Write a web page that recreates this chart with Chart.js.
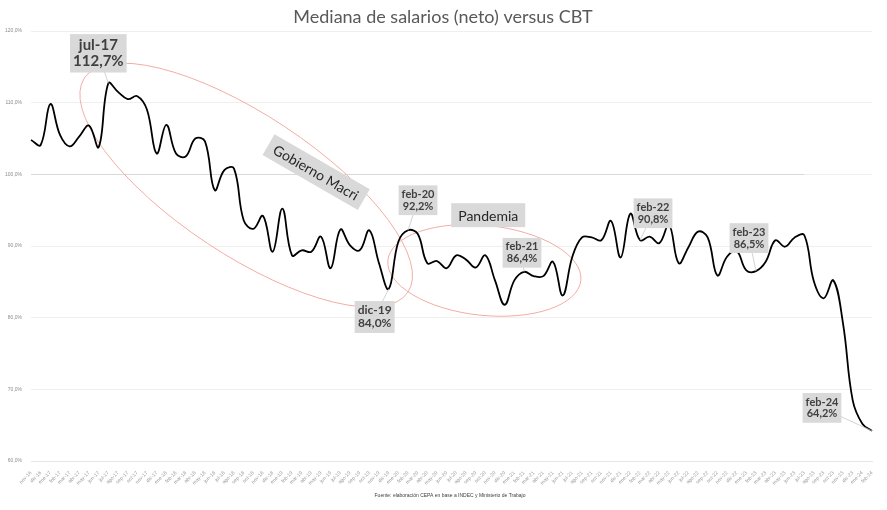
<!DOCTYPE html>
<html>
<head>
<meta charset="utf-8">
<script src="https://cdn.jsdelivr.net/npm/chart.js@4.4.1/dist/chart.umd.min.js"></script>
<style>
  html, body { margin: 0; padding: 0; background: #fff; }
  #wrap { width: 887px; height: 510px; }
</style>
</head>
<body>
<div id="wrap"><canvas id="salChart" width="887" height="510"></canvas></div>
<script>
// Meses (nov-16 a feb-24)
const meses = [
  'nov-16','dic-16',
  'ene-17','feb-17','mar-17','abr-17','may-17','jun-17','jul-17','ago-17','sep-17','oct-17','nov-17','dic-17',
  'ene-18','feb-18','mar-18','abr-18','may-18','jun-18','jul-18','ago-18','sep-18','oct-18','nov-18','dic-18',
  'ene-19','feb-19','mar-19','abr-19','may-19','jun-19','jul-19','ago-19','sep-19','oct-19','nov-19','dic-19',
  'ene-20','feb-20','mar-20','abr-20','may-20','jun-20','jul-20','ago-20','sep-20','oct-20','nov-20','dic-20',
  'ene-21','feb-21','mar-21','abr-21','may-21','jun-21','jul-21','ago-21','sep-21','oct-21','nov-21','dic-21',
  'ene-22','feb-22','mar-22','abr-22','may-22','jun-22','jul-22','ago-22','sep-22','oct-22','nov-22','dic-22',
  'ene-23','feb-23','mar-23','abr-23','may-23','jun-23','jul-23','ago-23','sep-23','oct-23','nov-23','dic-23',
  'ene-24','feb-24'
];

// Mediana de salarios netos / CBT (%)
const mediana = [
  104.8, 104.1,
  109.8, 105.5, 103.9, 105.3, 106.8, 103.8, 112.7, 111.5, 110.5, 110.9, 109.0, 102.9,
  106.9, 102.9, 102.5, 105.0, 104.6, 97.8, 100.6, 100.8, 93.6, 92.4, 94.2, 89.2,
  95.2, 88.7, 89.4, 89.2, 91.3, 86.9, 92.3, 90.1, 89.4, 92.2, 87.6, 84.0,
  90.6, 92.2, 91.7, 87.6, 87.9, 86.9, 88.7, 88.1, 87.0, 88.7, 85.2, 81.8,
  85.2, 86.4, 85.8, 85.8, 87.8, 83.1, 88.5, 91.2, 91.2, 90.8, 93.5, 88.4,
  94.5, 90.8, 91.3, 90.4, 93.0, 87.6, 89.8, 92.0, 91.2, 85.9, 88.5, 89.3,
  86.6, 86.5, 87.8, 90.8, 89.9, 91.2, 91.5, 85.0, 82.7, 85.2, 79.2, 68.5,
  65.2, 64.2
];

const yMin = 60, yMax = 120, yPaso = 10;

// Etiquetas de datos destacadas (indice del mes)
const destacados = [8, 37, 39, 51, 63, 75, 87];

const fmt = v => v.toFixed(1).replace('.', ',') + '%';

// Posicion de cada etiqueta respecto del punto (px)
const etiquetas = [
  { i: 8,  dx: -10, dy: -30, size: 15 },
  { i: 37, dx: -14, dy: 28,  size: 12 },
  { i: 39, dx: 10,  dy: -30, size: 11 },
  { i: 51, dx: -2,  dy: -19, size: 11 },
  { i: 63, dx: 13,  dy: -27, size: 11 },
  { i: 75, dx: -7,  dy: -33, size: 11 },
  { i: 87, dx: -50, dy: -23, size: 11 }
];

const rotulos = [
  { text: 'Gobierno Macri', i: 29.5, v: 100.3, rot: 30, size: 14 },
  { text: 'Pandemia', i: 47.3, v: 94.3, rot: 0, size: 14 }
];

const elipses = [
  { i: 22.26, v: 98.5, rx: 194, ry: 70, rot: 33.5 },
  { i: 46.9, v: 86.6, rx: 97, ry: 45, rot: 6 }
];

const anotaciones = {
  id: 'anotaciones',
  beforeDatasetsDraw(chart) {
    const { ctx, chartArea, scales: { x, y } } = chart;
    ctx.save();
    // linea de 100%
    ctx.strokeStyle = '#d9d9d9';
    ctx.lineWidth = 1;
    ctx.beginPath();
    ctx.moveTo(chartArea.left, Math.round(y.getPixelForValue(100)) + 0.5);
    ctx.lineTo(x.getPixelForValue(80), Math.round(y.getPixelForValue(100)) + 0.5);
    ctx.stroke();
    // elipses
    ctx.strokeStyle = '#f2aca4';
    elipses.forEach(e => {
      ctx.beginPath();
      ctx.ellipse(x.getPixelForValue(e.i), y.getPixelForValue(e.v), e.rx, e.ry, e.rot * Math.PI / 180, 0, Math.PI * 2);
      ctx.stroke();
    });
    ctx.restore();
  },
  afterDatasetsDraw(chart) {
    const { ctx, scales: { x, y } } = chart;
    ctx.save();
    // etiquetas con linea guia
    etiquetas.forEach(et => {
      const px = x.getPixelForValue(et.i);
      const py = y.getPixelForValue(mediana[et.i]);
      const lineas = [meses[et.i], fmt(mediana[et.i])];
      ctx.font = 'bold ' + et.size + 'px Lato';
      const w = Math.max(...lineas.map(l => ctx.measureText(l).width)) + 6;
      const lh = et.size * 1.08;
      const h = lh * 2 + 6;
      const cx = px + et.dx, cy = py + et.dy;
      ctx.strokeStyle = '#c8c8c8';
      ctx.lineWidth = 0.8;
      ctx.beginPath();
      ctx.moveTo(cx, cy);
      ctx.lineTo(px, py);
      ctx.stroke();
      ctx.fillStyle = '#d9d9d9';
      ctx.fillRect(cx - w / 2, cy - h / 2, w, h);
      ctx.fillStyle = '#404040';
      ctx.textAlign = 'center';
      ctx.textBaseline = 'middle';
      ctx.fillText(lineas[0], cx, cy - lh / 2);
      ctx.fillText(lineas[1], cx, cy + lh / 2);
    });
    // rotulos de periodos
    rotulos.forEach(r => {
      ctx.save();
      ctx.translate(x.getPixelForValue(r.i), y.getPixelForValue(r.v));
      ctx.rotate(r.rot * Math.PI / 180);
      ctx.font = r.size + 'px Lato';
      const w = ctx.measureText(r.text).width + 14;
      const h = r.size + 10;
      ctx.fillStyle = '#d9d9d9';
      ctx.fillRect(-w / 2, -h / 2, w, h);
      ctx.fillStyle = '#262626';
      ctx.textAlign = 'center';
      ctx.textBaseline = 'middle';
      ctx.fillText(r.text, 0, 1);
      ctx.restore();
    });
    ctx.restore();
  },
  afterDraw(chart) {
    const { ctx } = chart;
    ctx.save();
    ctx.textAlign = 'center';
    ctx.textBaseline = 'middle';
    ctx.fillStyle = '#595959';
    ctx.font = '18px Lato';
    ctx.fillText('Mediana de salarios (neto) versus CBT', 443, 17);
    ctx.fillStyle = '#404040';
    ctx.font = '5px "Liberation Sans"';
    ctx.fillText('Fuente: elaboración CEPA en base a INDEC y Ministerio de Trabajo', 450, 496);
    ctx.restore();
  }
};

const ctx = document.getElementById('salChart').getContext('2d');
new Chart(ctx, {
  type: 'line',
  data: {
    labels: meses,
    datasets: [{
      label: 'Mediana / CBT',
      data: mediana,
      borderColor: '#000000',
      borderWidth: 1.8,
      pointRadius: 0,
      tension: 0.4,
      fill: false
    }]
  },
  options: {
    responsive: false,
    animation: false,
    layout: { padding: { top: 31, right: 15, left: 0, bottom: 0 } },
    plugins: {
      legend: { display: false },
      tooltip: { enabled: false }
    },
    scales: {
      x: {
        offset: false,
        grid: { display: false },
        border: { color: '#e6e6e6' },
        ticks: {
          autoSkip: false,
          maxRotation: 45,
          minRotation: 45,
          padding: 1,
          color: '#9a9a9a',
          font: { size: 5, family: 'Liberation Sans' }
        },
        afterFit: s => { s.height = 49; }
      },
      y: {
        min: yMin,
        max: yMax,
        border: { display: false },
        grid: { color: '#efefef', drawTicks: false },
        ticks: {
          stepSize: yPaso,
          padding: 9,
          color: '#8c8c8c',
          font: { size: 5, family: 'Liberation Sans' },
          callback: v => fmt(v)
        },
        afterFit: s => { s.width = 31; }
      }
    }
  },
  plugins: [anotaciones]
});
</script>
</body>
</html>
